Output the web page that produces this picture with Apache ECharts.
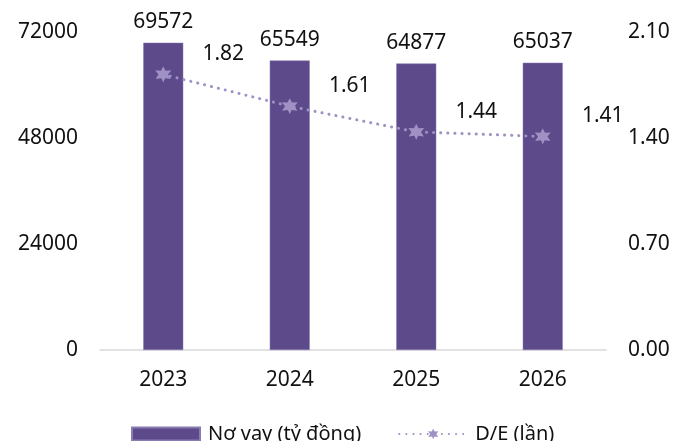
<!DOCTYPE html>
<html lang="vi">
<head>
<meta charset="UTF-8">
<title>no_vay_de</title>
<script src="https://cdn.jsdelivr.net/npm/echarts@6/dist/echarts.min.js"></script>
</head>
<body style="margin:0;background:#fff;">
<div id="chart" style="width:687px;height:441px;"></div>
<script type="text/javascript">
var years = ['2023', '2024', '2025', '2026'];
var noVay = [69572, 65549, 64877, 65037];   // tỷ đồng
var deRatio = [1.82, 1.61, 1.44, 1.41];     // lần

var font = 'Noto Sans';
var chart = echarts.init(document.getElementById('chart'));

// marker hình ngôi sao bo tròn
var blob = 'path://M50,5 L62,30 L92,28 L75,52 L90,78 L60,74 L50,98 L40,74 L10,78 L25,52 L8,28 L38,30 Z';

var option = {
    animation: false,
    grid: { left: 100, right: 81, top: 32, bottom: 91 },
    legend: {
        top: 419,
        left: 126,
        itemGap: 37,
        itemWidth: 68,
        itemHeight: 13,
        textStyle: { fontFamily: font, fontSize: 20, color: '#111', padding: [0, 0, 0, 3] },
        data: [
            { name: 'Nợ vay (tỷ đồng)', icon: 'rect' },
            { name: 'D/E (lần)' }
        ]
    },
    xAxis: {
        type: 'category',
        data: years,
        axisLine: { lineStyle: { color: '#d9d9d9', width: 1.5 } },
        axisTick: { show: false },
        axisLabel: { fontFamily: font, fontSize: 21, color: '#111', margin: 20 }
    },
    yAxis: [
        {
            type: 'value', min: 0, max: 72000, interval: 24000,
            splitLine: { show: false },
            axisLabel: {
                fontFamily: font, fontSize: 21, color: '#111', margin: 22,
                formatter: function (v) { return String(v); }
            }
        },
        {
            type: 'value', min: 0, max: 2.1, interval: 0.7,
            splitLine: { show: false },
            axisLabel: {
                fontFamily: font, fontSize: 21, color: '#111', margin: 22,
                formatter: function (v) { return v.toFixed(2); }
            }
        }
    ],
    series: [
        {
            name: 'Nợ vay (tỷ đồng)',
            type: 'bar',
            data: noVay,
            barWidth: 40,
            itemStyle: { color: '#5c4a8a', borderColor: '#8a7bb0', borderWidth: 0.5 },
            label: {
                show: true, position: 'top', distance: 10,
                fontFamily: font, fontSize: 21, color: '#111'
            }
        },
        {
            name: 'D/E (lần)',
            type: 'line',
            yAxisIndex: 1,
            data: deRatio,
            symbol: blob,
            symbolSize: 16,
            itemStyle: { color: '#a091c4' },
            lineStyle: { color: '#a091c4', width: 3, type: [0.1, 7], cap: 'round' },
            label: {
                show: true, position: 'inside', offset: [60, -20],
                fontFamily: font, fontSize: 21, color: '#111',
                formatter: function (p) { return p.value.toFixed(2); }
            },
            z: 5
        }
    ]
};

chart.setOption(option);
</script>
</body>
</html>
